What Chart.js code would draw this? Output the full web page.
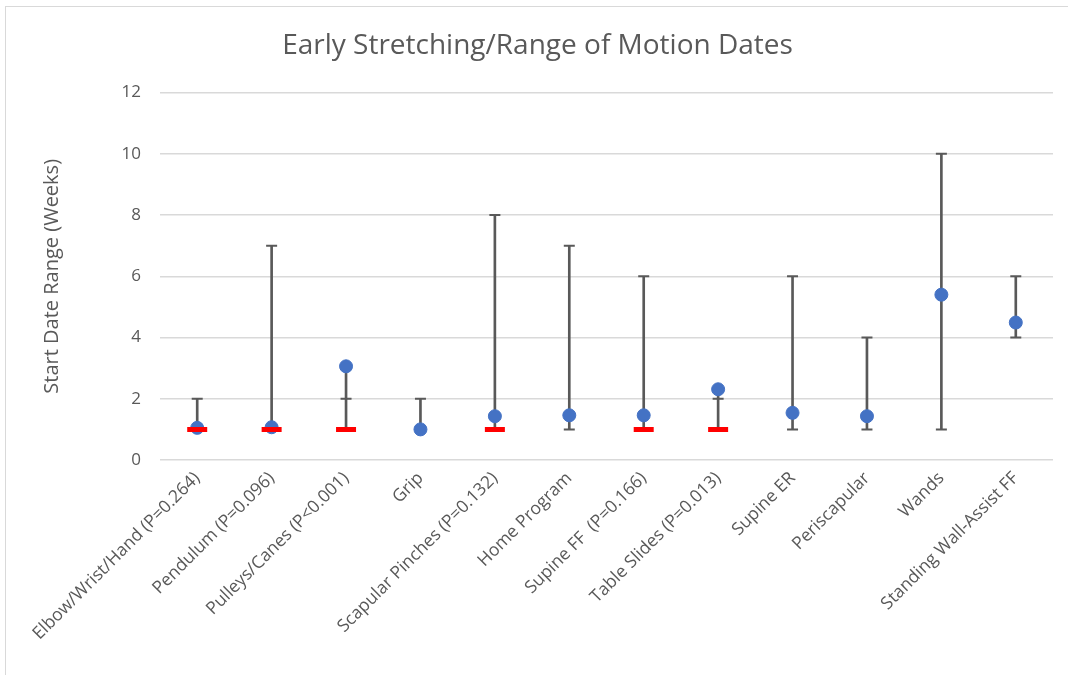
<!DOCTYPE html>
<html>
<head>
<meta charset="utf-8">
<title>Early Stretching/Range of Motion Dates</title>
<script src="https://cdn.jsdelivr.net/npm/chart.js@4.4.1/dist/chart.umd.min.js"></script>
<style>
    html, body { margin: 0; padding: 0; background: #fff; overflow: hidden; }
    #frame {
        position: absolute; left: 5px; top: 6px; width: 1080px; height: 680px;
        border: 1px solid #d9d9d9; box-sizing: border-box;
    }
    #wrap { position: absolute; left: 0; top: 0; width: 1068px; height: 675px; }
</style>
</head>
<body>
<div id="frame"></div>
<div id="wrap"><canvas id="myChart"></canvas></div>
<script>
const categories = [
    "Elbow/Wrist/Hand (P=0.264)", "Pendulum (P=0.096)", "Pulleys/Canes (P<0.001)", "Grip",
    "Scapular Pinches (P=0.132)", "Home Program", "Supine FF  (P=0.166)", "Table Slides (P=0.013)",
    "Supine ER", "Periscapular", "Wands", "Standing Wall-Assist FF"
];
// weeks
const meanStart = [1.05, 1.07, 3.06, 1.0, 1.43, 1.46, 1.46, 2.31, 1.54, 1.43, 5.4, 4.49];
const lowStart  = [1, 1, 1, 1, 1, 1, 1, 1, 1, 1, 1, 4];
const highStart = [2, 7, 2, 2, 8, 7, 6, 2, 6, 4, 10, 6];
const compareStart = [1, 1, 1, null, 1, null, 1, 1, null, null, null, null];
const yTicks = [0, 2, 4, 6, 8, 10, 12];

const textColor = '#595959';

// vertical line runs from the low value up to whichever is higher, the max or the mean
const whiskers = lowStart.map((lo, i) => [lo, Math.max(highStart[i], meanStart[i])]);

const ctx = document.getElementById('myChart').getContext('2d');
const chart = new Chart(ctx, {
    type: 'bar',
    data: {
        labels: categories,
        datasets: [
            {
                label: 'Range',
                data: whiskers,
                backgroundColor: '#595959',
                barThickness: 2,
                order: 4
            },
            {
                type: 'line',
                label: 'Max',
                data: highStart,
                showLine: false,
                pointStyle: 'line',
                pointRadius: 5.5,
                pointBorderWidth: 2,
                pointBorderColor: '#595959',
                order: 3
            },
            {
                type: 'line',
                label: 'Min',
                data: lowStart,
                showLine: false,
                pointStyle: 'line',
                pointRadius: 5.5,
                pointBorderWidth: 2,
                pointBorderColor: '#595959',
                order: 3
            },
            {
                type: 'line',
                label: 'Mean',
                data: meanStart,
                showLine: false,
                pointStyle: 'circle',
                pointRadius: 6.5,
                pointBackgroundColor: '#4472C4',
                pointBorderColor: '#4472C4',
                pointBorderWidth: 1,
                order: 2
            },
            {
                type: 'line',
                label: 'Comparison',
                data: compareStart,
                showLine: false,
                pointStyle: 'line',
                pointRadius: 10,
                pointBorderWidth: 5,
                pointBorderColor: '#ff0000',
                order: 1
            }
        ]
    },
    options: {
        responsive: true,
        maintainAspectRatio: false,
        animation: false,
        layout: { padding: { top: 29, left: 20, right: 13, bottom: 8 } },
        plugins: {
            legend: { display: false },
            tooltip: { enabled: false },
            title: {
                display: true,
                text: 'Early Stretching/Range of Motion Dates',
                color: textColor,
                font: { family: 'Open Sans', size: 28, weight: 'normal' },
                padding: { top: 0, bottom: 30 }
            }
        },
        scales: {
            x: {
                grid: { display: false, drawTicks: false },
                border: { display: false },
                ticks: {
                    color: textColor,
                    font: { family: 'Open Sans', size: 17.5 },
                    minRotation: 45,
                    maxRotation: 45,
                    autoSkip: false,
                    padding: 8
                },
                afterFit: function (scale) { scale.height = 207; }
            },
            y: {
                min: 0,
                max: 12,
                afterBuildTicks: function (scale) {
                    scale.ticks = yTicks.map(v => ({ value: v }));
                },
                grid: { color: '#d9d9d9', lineWidth: 1.5, drawTicks: false },
                border: { display: false },
                ticks: {
                    color: textColor,
                    font: { family: 'Open Sans', size: 17 },
                    padding: 19
                },
                title: {
                    display: true,
                    text: 'Start Date Range (Weeks)',
                    color: textColor,
                    font: { family: 'Open Sans', size: 20 },
                    padding: { top: 20, bottom: 0 }
                },
                afterFit: function (scale) { scale.width = 140; }
            }
        }
    }
});
</script>
</body>
</html>
